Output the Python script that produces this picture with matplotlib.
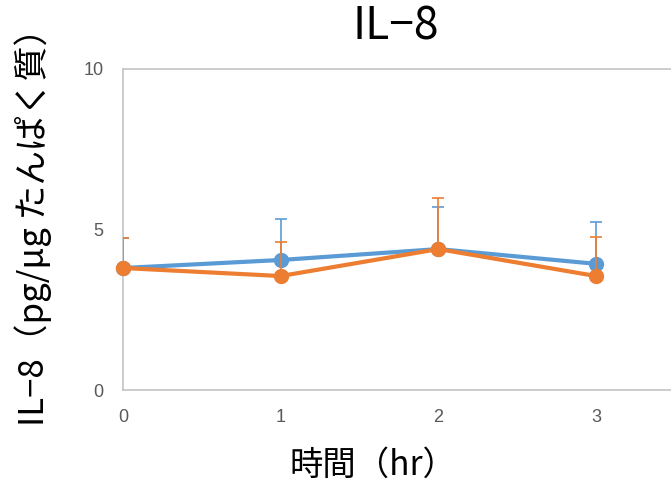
import numpy as np
from matplotlib import pyplot as plt

plt.rcParams["font.family"] = ["Noto Sans CJK JP", "DejaVu Sans"]

# values
hours = [0, 1, 2, 3]
series1_mean = [3.80, 4.05, 4.39, 3.93]
series1_sd = [0.92, 1.27, 1.30, 1.31]
series2_mean = [3.80, 3.55, 4.39, 3.55]
series2_sd = [0.92, 1.05, 1.58, 1.21]
yticks = [0, 5, 10]

blue = "#5B9BD5"
orange = "#ED7D31"
grey = "#BFBFBF"

fig = plt.figure(figsize=(6.71, 4.91), dpi=100)
ax = fig.add_axes([0.1833, 0.2057, 0.8167, 0.6538])

for mean, sd, color, z in [
    (series1_mean, series1_sd, blue, 2),
    (series2_mean, series2_sd, orange, 3),
]:
    # plus-only error bars, like Excel
    ax.errorbar(
        hours,
        mean,
        yerr=[np.zeros(len(sd)), sd],
        fmt="none",
        ecolor=color,
        elinewidth=1.2,
        capsize=4.3,
        capthick=1.2,
        zorder=z,
    )
    ax.plot(
        hours,
        mean,
        color=color,
        lw=3,
        marker="o",
        markersize=10,
        clip_on=False,
        zorder=z + 0.5,
    )

ax.set_xlim(0, 3.475)
ax.set_ylim(0, 10)
ax.set_xticks(hours)
ax.set_yticks(yticks)
ax.tick_params(length=0, labelsize=13, labelcolor="#595959", pad=14)
for lab in ax.get_xticklabels() + ax.get_yticklabels():
    lab.set_family(["Liberation Sans", "DejaVu Sans"])

for side in ["left", "bottom", "top"]:
    ax.spines[side].set_color(grey)
    ax.spines[side].set_linewidth(1.1)
ax.spines["right"].set_visible(False)

ax.set_xlabel("時間（hr）", fontsize=24)
ax.xaxis.set_label_coords(0.456, -0.18)
ax.set_ylabel("IL−8（pg/μg たんぱく質）", fontsize=25)
ax.yaxis.set_label_coords(-0.13, 0.535)

fig.text(396 / 671, 1 - 27 / 491, "IL−8", fontsize=32, ha="center", va="center")

fig.savefig("out.png", dpi=100)
